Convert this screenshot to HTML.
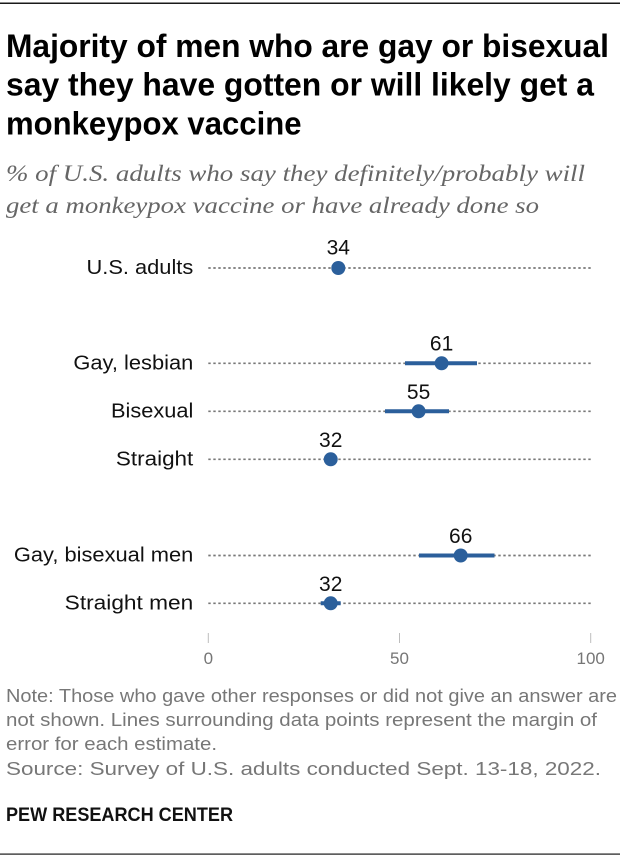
<!DOCTYPE html>
<html>
<head>
<meta charset="utf-8">
<style>
  html, body { margin: 0; padding: 0; background: #ffffff; }
  body { width: 620px; height: 858px; overflow: hidden; }
  svg { display: block; }
</style>
</head>
<body>
<svg width="620" height="858" viewBox="0 0 620 858" xmlns="http://www.w3.org/2000/svg">
  <rect x="0" y="0" width="620" height="858" fill="#ffffff"/>
  <!-- top rule -->
  <rect x="0" y="2.5" width="620" height="1.5" fill="#1a1a1a"/>

  <!-- title -->
  <g font-family="'Liberation Sans', Arial, sans-serif" font-weight="bold" font-size="32" fill="#000">
    <text x="6" y="57" textLength="603" lengthAdjust="spacingAndGlyphs">Majority of men who are gay or bisexual</text>
    <text x="6" y="95.5" textLength="588" lengthAdjust="spacingAndGlyphs">say they have gotten or will likely get a</text>
    <text x="6" y="134.5" textLength="295.5" lengthAdjust="spacingAndGlyphs">monkeypox vaccine</text>
  </g>

  <!-- subtitle -->
  <g font-family="'Liberation Serif', 'Times New Roman', serif" font-style="italic" font-size="23" fill="#666666">
    <text x="6" y="181" textLength="579" lengthAdjust="spacingAndGlyphs">% of U.S. adults who say they definitely/probably will</text>
    <text x="6" y="213" textLength="533" lengthAdjust="spacingAndGlyphs">get a monkeypox vaccine or have already done so</text>
  </g>

  <!-- dotted row lines -->
  <g stroke="#777777" stroke-width="1.7" stroke-dasharray="2.4 2.6">
    <line x1="208.3" y1="268" x2="591" y2="268"/>
    <line x1="208.3" y1="363.3" x2="591" y2="363.3"/>
    <line x1="208.3" y1="411.3" x2="591" y2="411.3"/>
    <line x1="208.3" y1="459.3" x2="591" y2="459.3"/>
    <line x1="208.3" y1="555.5" x2="591" y2="555.5"/>
    <line x1="208.3" y1="603.3" x2="591" y2="603.3"/>
  </g>

  <!-- error bars -->
  <g stroke="#2b5f9b" stroke-width="4" stroke-linecap="butt">
    <line x1="332" y1="268" x2="345" y2="268"/>
    <line x1="405" y1="363.3" x2="477" y2="363.3"/>
    <line x1="385" y1="411.3" x2="449" y2="411.3"/>
    <line x1="325" y1="459.3" x2="336" y2="459.3"/>
    <line x1="419" y1="555.5" x2="494.5" y2="555.5"/>
    <line x1="320.7" y1="603.3" x2="340.7" y2="603.3"/>
  </g>

  <!-- dots -->
  <g fill="#2b5f9b">
    <circle cx="338.3" cy="268" r="7"/>
    <circle cx="441.6" cy="363.3" r="7"/>
    <circle cx="418.6" cy="411.3" r="7"/>
    <circle cx="330.7" cy="459.3" r="7"/>
    <circle cx="460.7" cy="555.5" r="7"/>
    <circle cx="330.7" cy="603.3" r="7"/>
  </g>

  <!-- value labels -->
  <g font-family="'Liberation Sans', Arial, sans-serif" font-size="21" fill="#111" text-anchor="middle">
    <text x="338.3" y="254.5">34</text>
    <text x="441.6" y="350.5">61</text>
    <text x="418.6" y="398.8">55</text>
    <text x="330.7" y="446.8">32</text>
    <text x="460.7" y="543">66</text>
    <text x="330.7" y="590.8">32</text>
  </g>

  <!-- row labels -->
  <g font-family="'Liberation Sans', Arial, sans-serif" font-size="20.5" fill="#111">
    <text x="86.5" y="274" textLength="106.8" lengthAdjust="spacingAndGlyphs">U.S. adults</text>
    <text x="73.4" y="369.3" textLength="119.9" lengthAdjust="spacingAndGlyphs">Gay, lesbian</text>
    <text x="111" y="417.3" textLength="82.3" lengthAdjust="spacingAndGlyphs">Bisexual</text>
    <text x="115.9" y="465.3" textLength="77.4" lengthAdjust="spacingAndGlyphs">Straight</text>
    <text x="13.9" y="561.5" textLength="179.4" lengthAdjust="spacingAndGlyphs">Gay, bisexual men</text>
    <text x="64.7" y="609.3" textLength="128.6" lengthAdjust="spacingAndGlyphs">Straight men</text>
  </g>

  <!-- axis ticks -->
  <g stroke="#bdbdbd" stroke-width="1">
    <line x1="208.3" y1="633" x2="208.3" y2="643"/>
    <line x1="399.5" y1="633" x2="399.5" y2="643"/>
    <line x1="590.7" y1="633" x2="590.7" y2="643"/>
  </g>
  <g font-family="'Liberation Sans', Arial, sans-serif" font-size="17" fill="#767676" text-anchor="middle">
    <text x="208.3" y="664">0</text>
    <text x="399.5" y="664">50</text>
    <text x="590.7" y="664">100</text>
  </g>

  <!-- notes -->
  <g font-family="'Liberation Sans', Arial, sans-serif" font-size="18.5" fill="#777777">
    <text x="6" y="702" textLength="611" lengthAdjust="spacingAndGlyphs">Note: Those who gave other responses or did not give an answer are</text>
    <text x="6" y="726" textLength="591" lengthAdjust="spacingAndGlyphs">not shown. Lines surrounding data points represent the margin of</text>
    <text x="6" y="750" textLength="211" lengthAdjust="spacingAndGlyphs">error for each estimate.</text>
    <text x="6" y="775" textLength="595" lengthAdjust="spacingAndGlyphs">Source: Survey of U.S. adults conducted Sept. 13-18, 2022.</text>
  </g>
  <text x="6" y="821" font-family="'Liberation Sans', Arial, sans-serif" font-weight="bold" font-size="19" fill="#111" textLength="227" lengthAdjust="spacingAndGlyphs">PEW RESEARCH CENTER</text>

  <!-- bottom rule -->
  <rect x="0" y="853.5" width="620" height="1.2" fill="#1a1a1a"/>
</svg>
</body>
</html>
